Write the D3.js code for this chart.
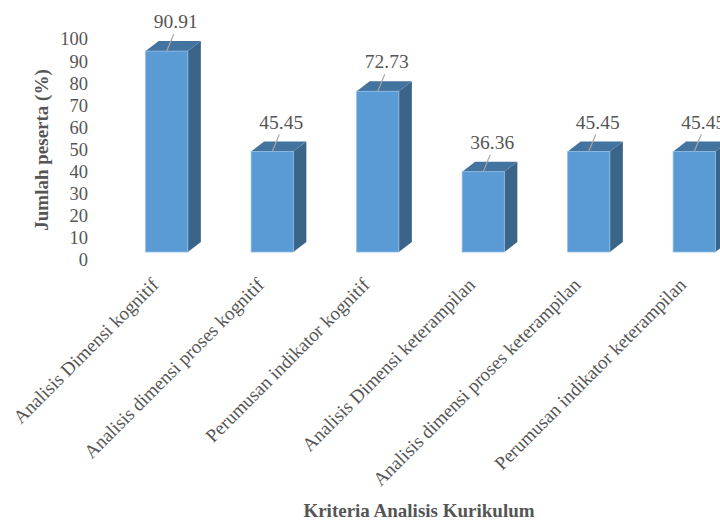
<!DOCTYPE html>
<html><head><meta charset="utf-8">
<script src="https://cdn.jsdelivr.net/npm/d3@7"></script>
<style>body{margin:0;background:#fff}svg{display:block}
svg text{font-family:"Liberation Serif","Times New Roman",serif;}</style>
</head><body>
<svg id="c" width="720" height="521"></svg>
<script>
const categories = ["Analisis Dimensi kognitif","Analisis dimensi proses kognitif","Perumusan indikator kognitif","Analisis Dimensi keterampilan","Analisis dimensi proses keterampilan","Perumusan indikator keterampilan"];
const values = [90.91, 45.45, 72.73, 36.36, 45.45, 45.45];
const valueLabels = ["90.91","45.45","72.73","36.36","45.45","45.45"];
const yTicks = [0,10,20,30,40,50,60,70,80,90,100];

const svg = d3.select("#c");
const textCol = "#555555";

const x = d3.scaleBand().domain(categories).range([114, 747]).paddingInner(0.6).paddingOuter(0.3);
const y = d3.scaleLinear().domain([0,100]).range([252, 31]);
const depthX = 13, depthY = 10;

const yAxis = d3.axisLeft(y).tickValues(yTicks).tickSize(0).tickPadding(0).tickFormat(d3.format("d"));
const ga = svg.append("g").attr("transform","translate(88,8)").call(yAxis);
ga.attr("font-family",null);
ga.select(".domain").remove();
ga.selectAll("text").attr("font-size",18.5).attr("fill",textCol);

const bars = svg.append("g");
values.forEach((v,i)=>{
  const x0 = x(categories[i]), w = x.bandwidth();
  const yt = y(v), yb = y(0);
  bars.append("path").attr("d",`M${x0+w},${yt}L${x0+w+depthX},${yt-depthY}L${x0+w+depthX},${yb-depthY}L${x0+w},${yb}Z`).attr("fill","#3B6489");
  bars.append("path").attr("d",`M${x0},${yt}L${x0+depthX},${yt-depthY}L${x0+w+depthX},${yt-depthY}L${x0+w},${yt}Z`).attr("fill","#43739F");
  bars.append("rect").attr("x",x0).attr("y",yt).attr("width",w).attr("height",yb-yt).attr("fill","#5B9BD5").attr("stroke","#8DB8E2").attr("stroke-width",0.8);
});

const lab = svg.append("g");
values.forEach((v,i)=>{
  const cx = x(categories[i]) + x.bandwidth()/2;
  const yt = y(v);
  lab.append("line").attr("x1",cx).attr("y1",yt).attr("x2",cx+7).attr("y2",yt-17).attr("stroke","#A6A6A6").attr("stroke-width",1.2);
  lab.append("text").attr("x",cx+9).attr("y",yt-23).attr("text-anchor","middle")
    .attr("font-size",19.5).attr("fill",textCol).text(valueLabels[i]);
});

const gx = svg.append("g");
categories.forEach((c,i)=>{
  const cx = x(c) + x.bandwidth()/2;
  gx.append("text").attr("transform",`translate(${cx-7},${286}) rotate(-45)`).attr("text-anchor","end")
    .attr("font-size",19).attr("fill",textCol).text(c);
});

svg.append("text").attr("transform","translate(48,150) rotate(-90)").attr("text-anchor","middle")
  .attr("font-size",19).attr("font-weight","bold").attr("fill",textCol).text("Jumlah peserta (%)");
svg.append("text").attr("x",419).attr("y",517).attr("text-anchor","middle")
  .attr("font-size",19).attr("font-weight","bold").attr("fill",textCol).text("Kriteria Analisis Kurikulum");
</script>
</body></html>
